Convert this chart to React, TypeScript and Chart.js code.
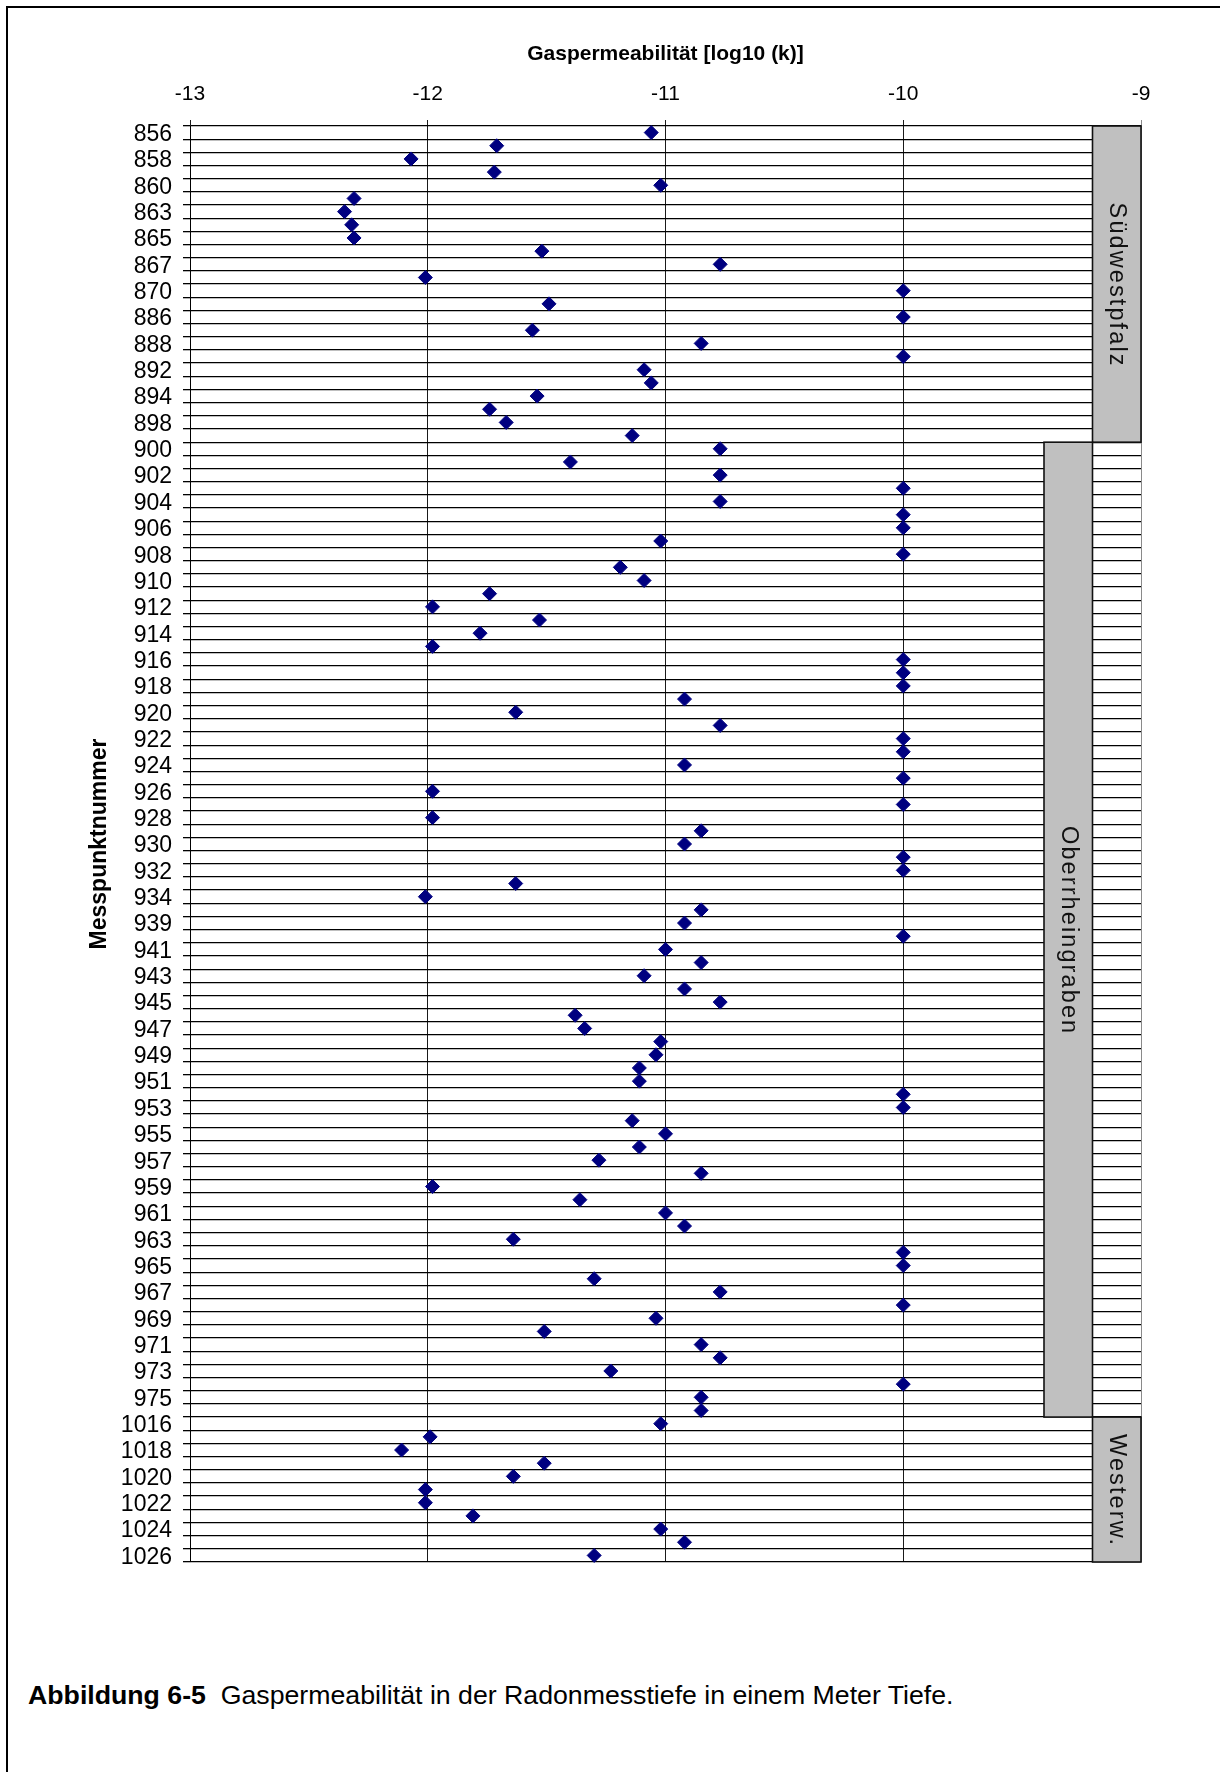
import React, { useEffect, useRef } from 'react';
import { Chart, registerables } from 'chart.js';

Chart.register(...registerables);

// Measuring points (every second one is labelled on the axis)
const categories = [
  '856', '857', '858', '859', '860', '862', '863', '864', '865', '866',
  '867', '869', '870', '885', '886', '887', '888', '891', '892', '893',
  '894', '897', '898', '899', '900', '901', '902', '903', '904', '905',
  '906', '907', '908', '909', '910', '911', '912', '913', '914', '915',
  '916', '917', '918', '919', '920', '921', '922', '923', '924', '925',
  '926', '927', '928', '929', '930', '931', '932', '933', '934', '938',
  '939', '940', '941', '942', '943', '944', '945', '946', '947', '948',
  '949', '950', '951', '952', '953', '954', '955', '956', '957', '958',
  '959', '960', '961', '962', '963', '964', '965', '966', '967', '968',
  '969', '970', '971', '972', '973', '974', '975', '976', '1016', '1017',
  '1018', '1019', '1020', '1021', '1022', '1023', '1024', '1025', '1026',
];

// Gas permeability, log10(k)
const permeability = [
  -11.06, -11.71, -12.07, -11.72, -11.02, -12.31, -12.35, -12.32, -12.31, -11.52,
  -10.77, -12.01, -10.0, -11.49, -10.0, -11.56, -10.85, -10.0, -11.09, -11.06,
  -11.54, -11.74, -11.67, -11.14, -10.77, -11.4, -10.77, -10.0, -10.77, -10.0,
  -10.0, -11.02, -10.0, -11.19, -11.09, -11.74, -11.98, -11.53, -11.78, -11.98,
  -10.0, -10.0, -10.0, -10.92, -11.63, -10.77, -10.0, -10.0, -10.92, -10.0,
  -11.98, -10.0, -11.98, -10.85, -10.92, -10.0, -10.0, -11.63, -12.01, -10.85,
  -10.92, -10.0, -11.0, -10.85, -11.09, -10.92, -10.77, -11.38, -11.34, -11.02,
  -11.04, -11.11, -11.11, -10.0, -10.0, -11.14, -11.0, -11.11, -11.28, -10.85,
  -11.98, -11.36, -11.0, -10.92, -11.64, -10.0, -10.0, -11.3, -10.77, -10.0,
  -11.04, -11.51, -10.85, -10.77, -11.23, -10.0, -10.85, -10.85, -11.02, -11.99,
  -12.11, -11.51, -11.64, -12.01, -12.01, -11.81, -11.02, -10.92, -11.3,
];

const xTicks = [-13, -12, -11, -10, -9];

const regionNames = ['Südwestpfalz', 'Oberrheingraben', 'Westerw.'];
const regionFirst = ['856', '900', '1016'];
const regionLast = ['899', '976', '1026'];
const regionColumn = [1, 0, 1];

const FONT = '"Liberation Sans", Arial, Helvetica, sans-serif';

const regionPlugin = {
  id: 'regionBoxes',
  afterDatasetsDraw(chart: any) {
    const { ctx, chartArea, scales } = chart;
    const y = scales.y;
    const half = (y.getPixelForValue(1) - y.getPixelForValue(0)) / 2;
    const colW = 48.5;
    ctx.save();
    regionNames.forEach((name, i) => {
      const a = categories.indexOf(regionFirst[i]);
      const b = categories.indexOf(regionLast[i]);
      const top = y.getPixelForValue(a) - half;
      const bottom = y.getPixelForValue(b) + half;
      const right = chartArea.right - (1 - regionColumn[i]) * colW;
      const left = right - colW;
      ctx.fillStyle = '#c0c0c0';
      ctx.fillRect(left, top, colW, bottom - top);
      ctx.strokeStyle = '#111';
      ctx.lineWidth = 1.6;
      ctx.strokeRect(left, top, colW, bottom - top);
      ctx.save();
      ctx.translate((left + right) / 2, (top + bottom) / 2);
      ctx.rotate(Math.PI / 2);
      ctx.font = '23.5px ' + FONT;
      (ctx as any).letterSpacing = '2.1px';
      ctx.fillStyle = '#111';
      ctx.textAlign = 'center';
      ctx.textBaseline = 'middle';
      ctx.fillText(name, 1, 0);
      ctx.restore();
    });
    ctx.restore();
  },
};

function PermeabilityChart() {
  const ref = useRef<HTMLCanvasElement | null>(null);
  useEffect(() => {
    if (!ref.current) return;
    const chart = new Chart(ref.current, {
      type: 'line',
      data: {
        labels: categories,
        datasets: [
          {
            data: permeability,
            showLine: false,
            pointStyle: 'rectRot',
            pointRadius: 7,
            pointBackgroundColor: '#000080',
            pointBorderColor: '#000080',
            pointBorderWidth: 1,
          },
        ],
      },
      options: {
        animation: false,
        responsive: false,
        indexAxis: 'y',
        layout: { padding: { left: 0, top: 0, right: 79, bottom: 38 } },
        plugins: { legend: { display: false }, tooltip: { enabled: false } },
        scales: {
          x: {
            type: 'linear',
            position: 'top',
            min: -13,
            max: -9,
            afterBuildTicks: (s: any) => {
              s.ticks = xTicks.map((v) => ({ value: v }));
            },
            afterFit: (s: any) => {
              s.height = 126;
            },
            ticks: {
              font: { family: FONT, size: 21 },
              color: '#000',
              padding: 13,
            },
            grid: {
              color: (c: any) => (c.tick && c.tick.value === -9 ? '#8a8a8a' : '#1a1a1a'),
              lineWidth: 1,
              tickLength: 6,
            },
            border: { display: false },
            title: {
              display: true,
              text: 'Gaspermeabilität [log10 (k)]',
              font: { family: FONT, size: 21, weight: 'bold' },
              color: '#000',
              padding: { top: 42, bottom: 0 },
            },
          },
          y: {
            type: 'category',
            offset: true,
            afterFit: (s: any) => {
              s.width = 190;
            },
            ticks: {
              autoSkip: false,
              callback: (_v: any, i: number) => (i % 2 === 0 ? categories[i] : ''),
              font: { family: FONT, size: 23 },
              color: '#000',
              padding: 11,
              labelOffset: 2,
            },
            grid: {
              offset: true,
              color: '#000',
              lineWidth: (c: any) => (c.index === categories.length ? 2 : 1.3),
              tickLength: 7,
            },
            border: { display: true, color: '#000', width: 1 },
            title: {
              display: true,
              text: 'Messpunktnummer',
              font: { family: FONT, size: 23, weight: 'bold' },
              color: '#000',
              padding: { top: 86, bottom: 0 },
            },
          },
        },
      } as any,
      plugins: [regionPlugin],
    });
    return () => chart.destroy();
  }, []);
  return (
    <canvas
      ref={ref}
      width={1220}
      height={1600}
      style={{ position: 'absolute', left: 0, top: 0, width: 1220, height: 1600 }}
    />
  );
}

export default function App() {
  return (
    <div
      style={{
        position: 'absolute',
        left: 0,
        top: 0,
        width: 1220,
        height: 1772,
        overflow: 'hidden',
        background: '#fff',
      }}
    >
      <div
        style={{
          position: 'absolute',
          left: 6,
          top: 6,
          width: 1400,
          height: 2000,
          borderLeft: '2px solid #000',
          borderTop: '2px solid #000',
        }}
      />
      <PermeabilityChart />
      <div
        style={{
          position: 'absolute',
          left: 28,
          top: 1680,
          fontFamily: FONT,
          fontSize: 26.7,
          color: '#000',
          whiteSpace: 'pre',
        }}
      >
        <b>Abbildung 6-5</b>
        {'  Gaspermeabilität in der Radonmesstiefe in einem Meter Tiefe.'}
      </div>
    </div>
  );
}
